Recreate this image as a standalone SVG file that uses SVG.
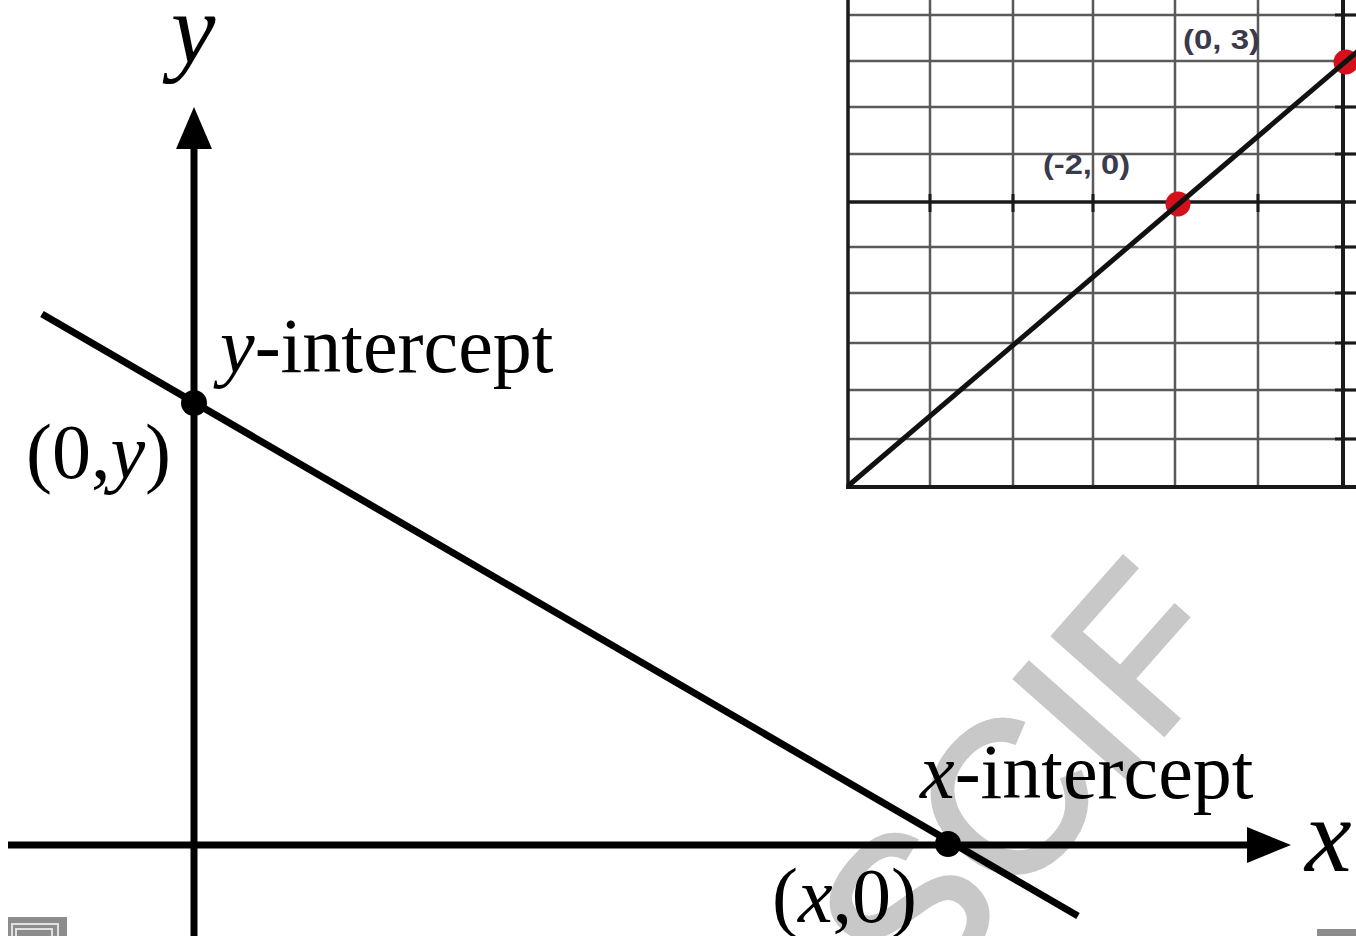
<svg xmlns="http://www.w3.org/2000/svg" width="1356" height="936" viewBox="0 0 1356 936">
<style>
.serif{font-family:"Liberation Serif","Times New Roman",serif;fill:#000}
.it{font-style:italic}
.lbl{font-size:78px}
.grid{stroke:#5a5a5a;stroke-width:2.5}
.small{font-family:"Liberation Sans",Arial,sans-serif;font-weight:bold;font-size:28px;fill:#3a3a4c}
.wm{font-family:"Liberation Sans",Arial,sans-serif;font-size:214px;fill:#c8c8c8;stroke:#c8c8c8;stroke-width:5}
</style>
<rect width="1356" height="936" fill="#fff"/>
<g id="inset">
  <g class="grid">
    <line x1="930" y1="0" x2="930" y2="487"/>
    <line x1="1013" y1="0" x2="1013" y2="487"/>
    <line x1="1093" y1="0" x2="1093" y2="487"/>
    <line x1="1175" y1="0" x2="1175" y2="487"/>
    <line x1="1258" y1="0" x2="1258" y2="487"/>
    <line x1="848" y1="15" x2="1356" y2="15"/>
    <line x1="848" y1="61" x2="1356" y2="61"/>
    <line x1="848" y1="107" x2="1356" y2="107"/>
    <line x1="848" y1="154" x2="1356" y2="154"/>
    <line x1="848" y1="247" x2="1356" y2="247"/>
    <line x1="848" y1="293" x2="1356" y2="293"/>
    <line x1="848" y1="343" x2="1356" y2="343"/>
    <line x1="848" y1="390" x2="1356" y2="390"/>
    <line x1="848" y1="439" x2="1356" y2="439"/>
  </g>
  <g stroke="#1a1a1a">
    <line x1="848" y1="0" x2="848" y2="489" stroke-width="3.5"/>
    <line x1="846" y1="487" x2="1356" y2="487" stroke-width="4"/>
    <line x1="848" y1="202" x2="1356" y2="202" stroke-width="3.5"/>
    <line x1="1343" y1="0" x2="1343" y2="489" stroke-width="4"/>
    <g stroke-width="3">
      <line x1="930" y1="194" x2="930" y2="212"/>
      <line x1="1013" y1="194" x2="1013" y2="212"/>
      <line x1="1093" y1="194" x2="1093" y2="212"/>
      <line x1="1258" y1="194" x2="1258" y2="212"/>
      <line x1="1335" y1="15" x2="1356" y2="15"/>
      <line x1="1335" y1="107" x2="1356" y2="107"/>
      <line x1="1335" y1="154" x2="1356" y2="154"/>
      <line x1="1335" y1="247" x2="1356" y2="247"/>
      <line x1="1335" y1="293" x2="1356" y2="293"/>
      <line x1="1335" y1="343" x2="1356" y2="343"/>
      <line x1="1335" y1="390" x2="1356" y2="390"/>
      <line x1="1335" y1="439" x2="1356" y2="439"/>
    </g>
  </g>
  <circle cx="1178" cy="204" r="12.5" fill="#d4101c"/>
  <circle cx="1346" cy="62" r="12.5" fill="#d4101c"/>
  <line x1="848" y1="486" x2="1358" y2="51" stroke="#111" stroke-width="5"/>
  <text class="small" x="1183" y="49" textLength="77" lengthAdjust="spacingAndGlyphs">(0, 3)</text>
  <text class="small" x="1043" y="174" textLength="87" lengthAdjust="spacingAndGlyphs">(-2, 0)</text>
</g>
<g id="watermark">
  <text class="wm" transform="translate(916,1014) rotate(-48.5)">SCIF</text>
</g>
<g id="connectors" stroke="#000" stroke-width="7" fill="none">
  <line x1="194" y1="140" x2="194" y2="936"/>
  <line x1="8" y1="845" x2="1255" y2="845"/>
  <line x1="42" y1="314" x2="1078" y2="916"/>
  <polygon points="194,107 212,149 176,149" fill="#000" stroke="none"/>
  <polygon points="1291,845 1247,827 1247,863" fill="#000" stroke="none"/>
</g>
<g id="y-intercept">
  <circle cx="194" cy="403" r="13" fill="#000"/>
  <text class="serif lbl" x="220" y="372"><tspan class="it">y</tspan>-intercept</text>
  <text class="serif lbl" x="26" y="478">(0,<tspan class="it">y</tspan>)</text>
</g>
<g id="x-intercept">
  <circle cx="948" cy="844" r="13" fill="#000"/>
  <text class="serif lbl" x="920" y="798"><tspan class="it">x</tspan>-intercept</text>
  <text class="serif lbl" x="772" y="922">(<tspan class="it">x</tspan>,0)</text>
</g>
<g id="axis-labels">
  <text class="serif it" x="171" y="63" font-size="100">y</text>
  <text class="serif it" x="1305" y="871" font-size="105">x</text>
</g>
<g id="corner-marks">
  <rect x="8" y="917" width="59" height="19" fill="#8c8c8c"/>
  <path d="M12 936 V924 H58 V936 M16 936 V929 H52 V936" fill="none" stroke="#e0e0e0" stroke-width="2"/>
  <rect x="1317" y="929" width="39" height="7" fill="#8c8c8c"/>
</g>
</svg>
